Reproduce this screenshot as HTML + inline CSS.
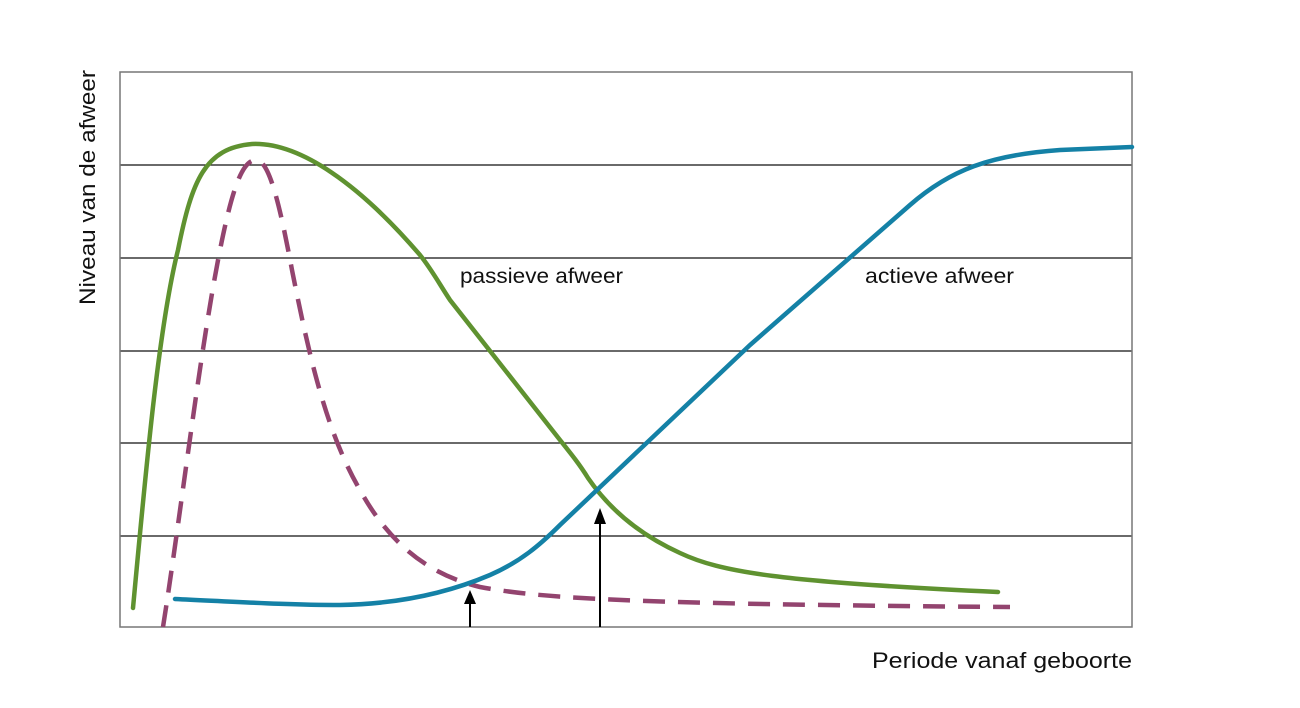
<!DOCTYPE html>
<html><head><meta charset="utf-8"><style>
html,body{margin:0;padding:0;background:#fff;}
svg{display:block;}
text{font-family:"Liberation Sans",sans-serif;fill:#111;}
</style></head><body>
<svg width="1300" height="708" viewBox="0 0 1300 708" xmlns="http://www.w3.org/2000/svg">
<g stroke="#111" stroke-width="1.2">
<line x1="120" y1="165" x2="1132" y2="165"/>
<line x1="120" y1="258" x2="1132" y2="258"/>
<line x1="120" y1="351" x2="1132" y2="351"/>
<line x1="120" y1="443" x2="1132" y2="443"/>
<line x1="120" y1="536" x2="1132" y2="536"/>
</g>
<rect x="120" y="72" width="1012" height="555" fill="none" stroke="#777" stroke-width="1.5"/>
<path d="M133,608 C145,480 158,330 178,250 C192,180 205,148 252,144 C300,142 360,185 420,255 C432,270 440,285 450,300 L560,440 C572,455 580,465 588,478 C610,510 640,535 680,553 C720,572 780,582 998,592" fill="none" stroke="#5f9230" stroke-width="4.5" stroke-linecap="round"/>
<path d="M163,627 C180,520 200,350 220,250 C232,190 242,160 256,160 C268,160 278,195 292,270 C308,350 325,430 360,490 C390,545 430,575 480,587 C540,598 620,604 1010,607" fill="none" stroke="#93446f" stroke-width="4.5" stroke-dasharray="22,13"/>
<path d="M175,599 C240,602 290,605 340,605 C400,604 450,592 490,575 C520,562 540,545 560,525 L750,345 L910,205 C950,170 990,155 1060,150 L1132,147" fill="none" stroke="#1481a6" stroke-width="4.5" stroke-linecap="round"/>
<g stroke="#000" stroke-width="2">
<line x1="470" y1="627" x2="470" y2="600"/>
<line x1="600" y1="627" x2="600" y2="520"/>
</g>
<polygon points="470,590 464,604 476,604" fill="#000"/>
<polygon points="600,508 594,524 606,524" fill="#000"/>
<text x="460" y="283" font-size="21" textLength="163" lengthAdjust="spacingAndGlyphs">passieve afweer</text>
<text x="865" y="283" font-size="21" textLength="149" lengthAdjust="spacingAndGlyphs">actieve afweer</text>
<text x="872" y="668" font-size="22" textLength="260" lengthAdjust="spacingAndGlyphs">Periode vanaf geboorte</text>
<text transform="translate(95,305) rotate(-90)" font-size="22" textLength="235" lengthAdjust="spacingAndGlyphs">Niveau van de afweer</text>
</svg>
</body></html>
